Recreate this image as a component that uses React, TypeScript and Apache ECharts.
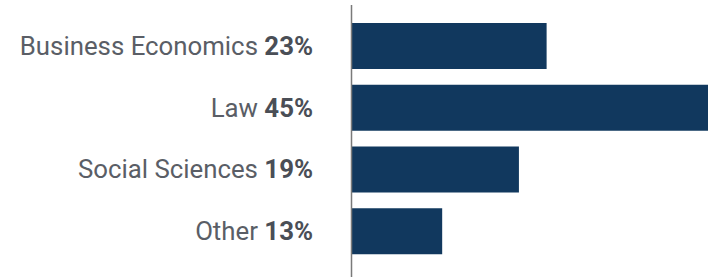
import React, { useEffect, useRef } from "react";
import * as echarts from "echarts";

const categories = ["Business Economics", "Law", "Social Sciences", "Other"];
const shareLabels = [23, 45, 19, 13];
const barValues = [24.6, 45, 21.1, 11.4];

export default function App() {
  const ref = useRef<HTMLDivElement>(null);
  useEffect(() => {
    if (!ref.current) return;
    const chart = echarts.init(ref.current, undefined, { renderer: "svg" });
    chart.setOption({
      animation: false,
      grid: { left: 352, right: 10, top: 15, bottom: 15, containLabel: false },
      xAxis: {
        type: "value",
        min: 0,
        max: 45,
        show: false,
      },
      yAxis: {
        type: "category",
        inverse: true,
        data: categories,
        axisLine: { show: false },
        axisTick: { show: false },
        splitLine: { show: false },
        axisLabel: {
          margin: 39,
          formatter: (v: string, i: number) => `{n|${v} }{b|${shareLabels[i]}%}`,
          rich: {
            n: { fontFamily: "Roboto", fontSize: 25.8, color: "#5a5e66" },
            b: { fontFamily: "Roboto", fontSize: 25.8, fontWeight: "bold", color: "#4a4e56" },
          },
        },
      },
      graphic: [
        {
          type: "line",
          shape: { x1: 351.5, y1: 5, x2: 351.5, y2: 277 },
          style: { stroke: "#7a7a7a", lineWidth: 1.5 },
          z: 10,
        },
      ],
      series: [
        {
          type: "bar",
          data: barValues,
          barWidth: 46,
          itemStyle: { color: "#11385e" },
        },
      ],
    });
    return () => chart.dispose();
  }, []);
  return <div ref={ref} style={{ width: 718, height: 277, position: "absolute", left: 0, top: 0 }} />;
}
